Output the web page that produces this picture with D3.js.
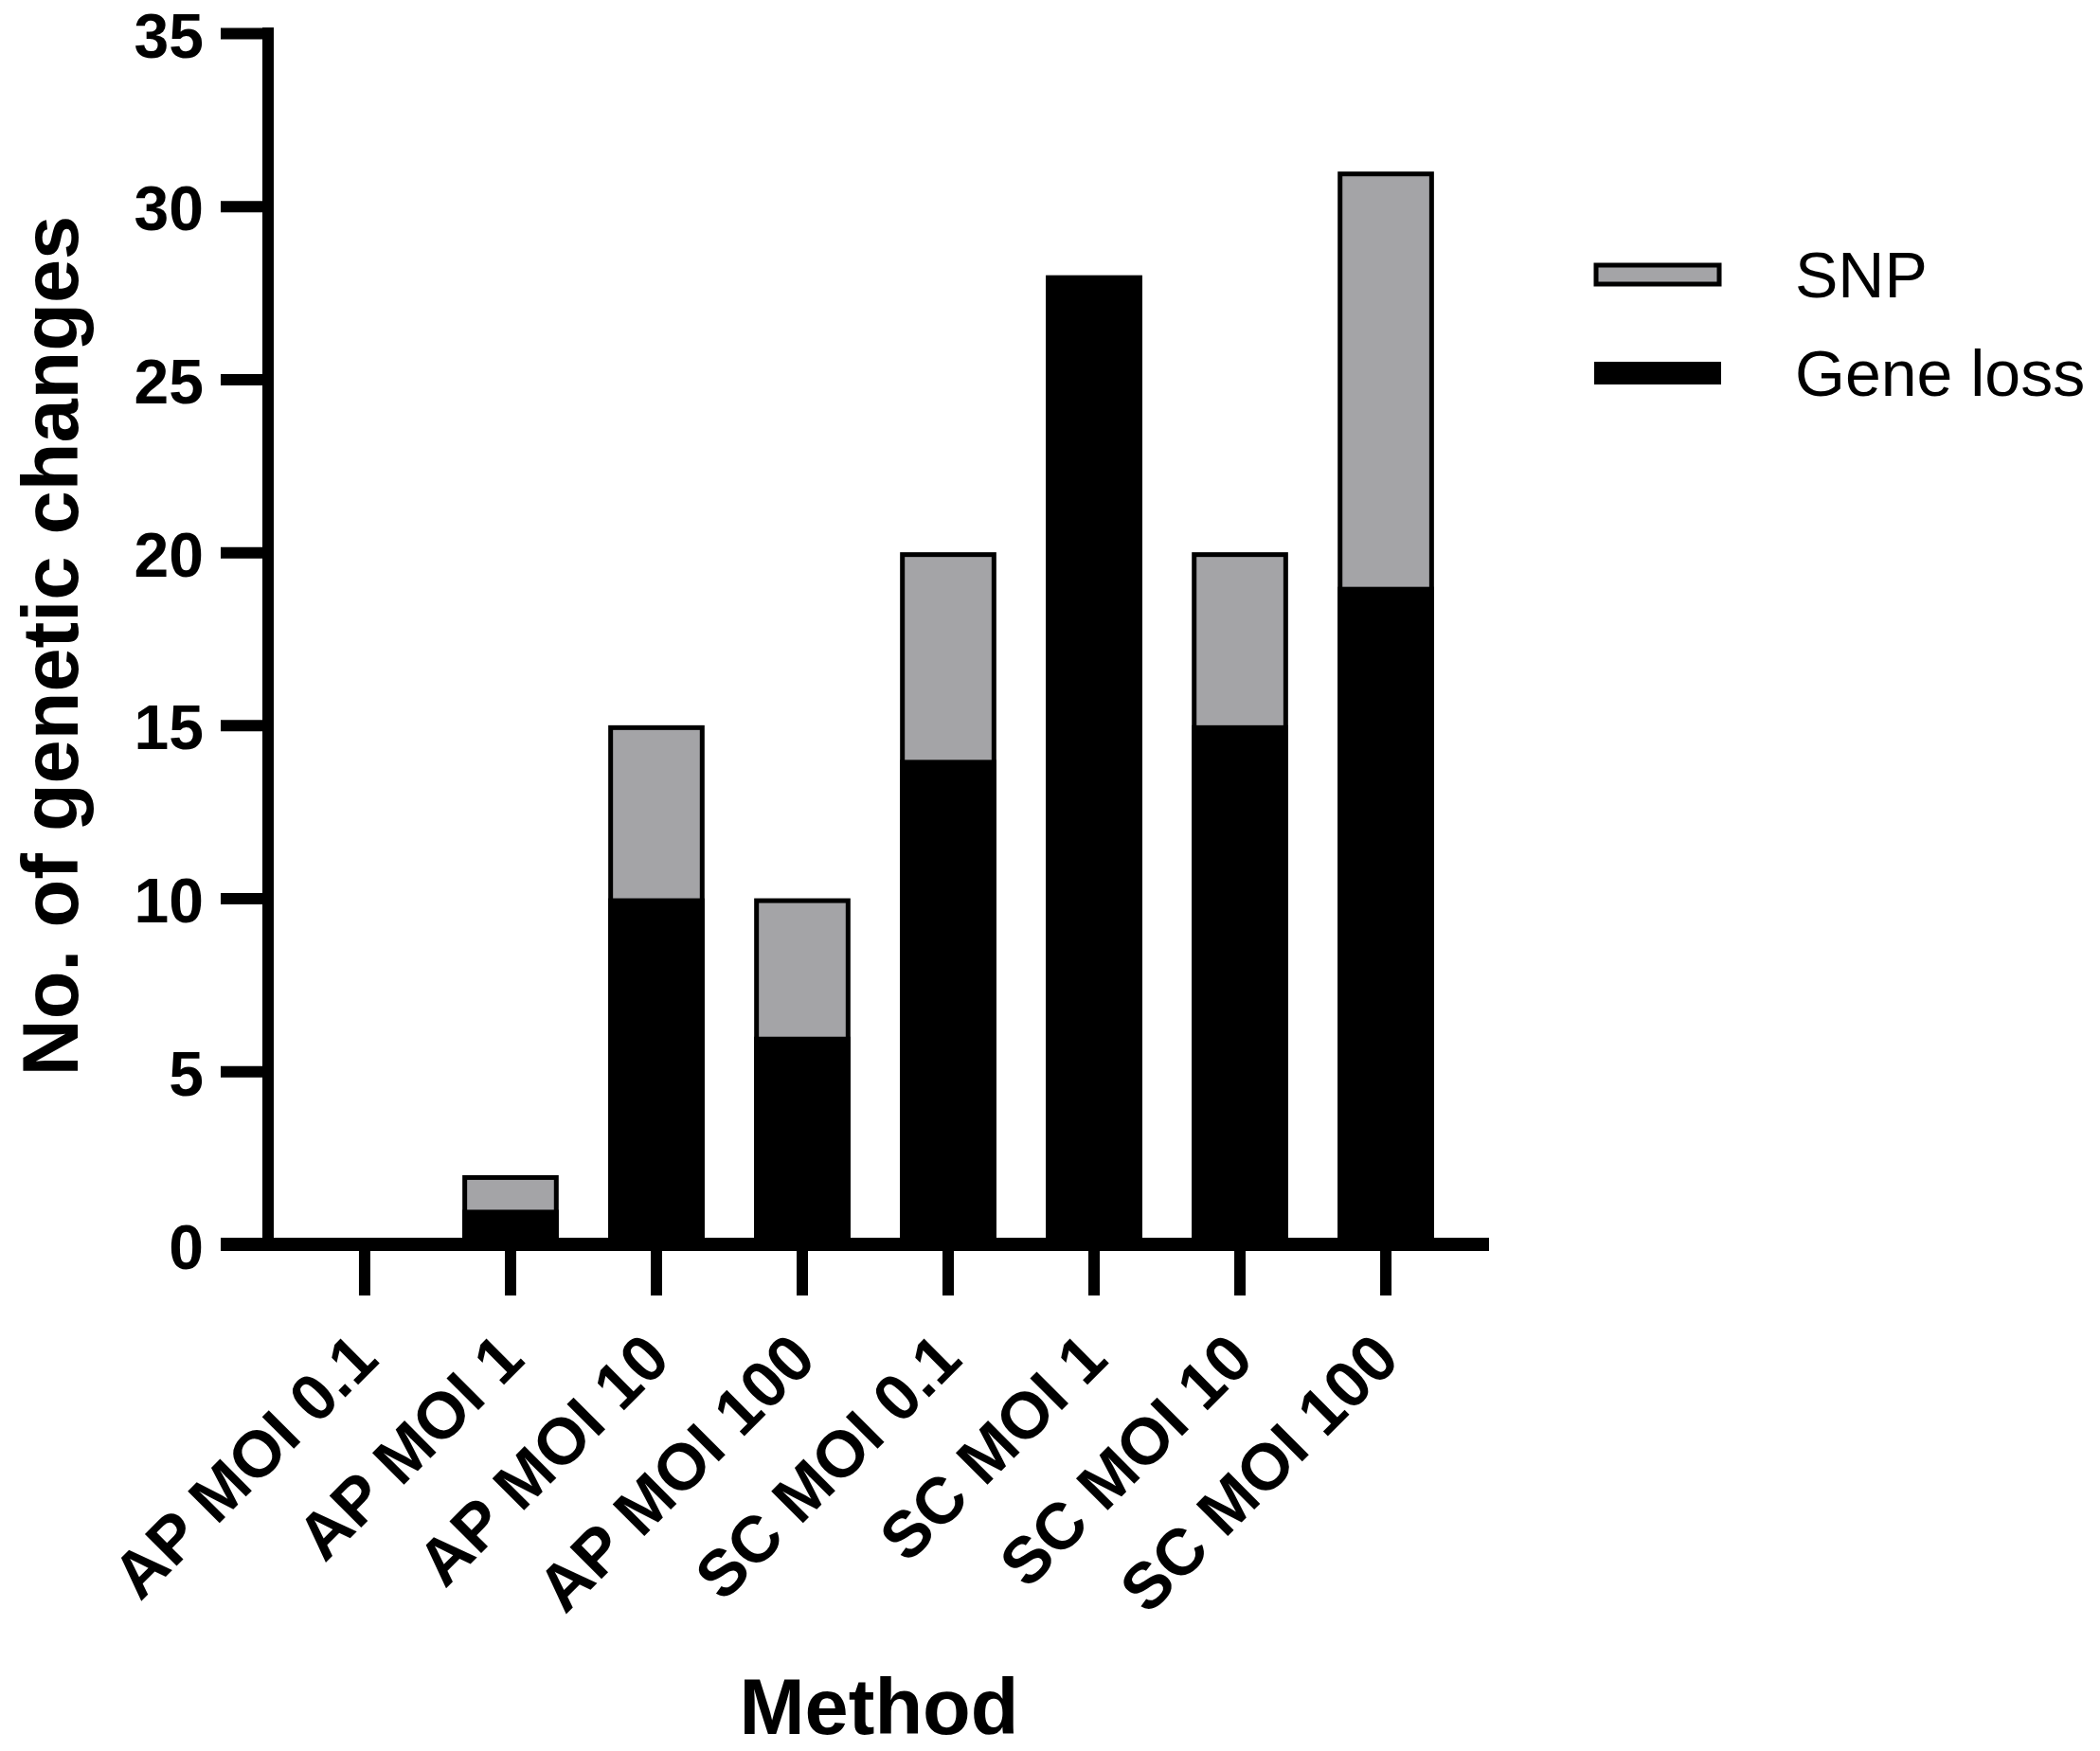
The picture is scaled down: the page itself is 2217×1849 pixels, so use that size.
<!DOCTYPE html>
<html>
<head>
<meta charset="utf-8">
<script src="https://cdn.jsdelivr.net/npm/d3@7"></script>
<style>
  body { margin: 0; background: #fff; }
  svg { display: block; }
  text { font-family: "Liberation Sans", Arial, sans-serif; }
</style>
</head>
<body>
<div id="chart"></div>
<script>
// data
const categories = ["AP MOI 0.1", "AP MOI 1", "AP MOI 10", "AP MOI 100",
  "SC MOI 0.1", "SC MOI 1", "SC MOI 10", "SC MOI 100"];
const geneLoss = [0, 1, 10, 6, 14, 28, 15, 19];
const snp = [0, 1, 5, 4, 6, 0, 5, 12];
const yTicks = [0, 5, 10, 15, 20, 25, 30, 35];
const seriesNames = ["SNP", "Gene loss"];
const snpGrey = "#a4a4a7";

const width = 2217, height = 1849;
const svg = d3.select("#chart").append("svg")
  .attr("width", width)
  .attr("height", height);

const x = d3.scaleBand()
  .domain(categories)
  .range([283, 1565])
  .paddingInner(0.34)
  .paddingOuter(0.332);

const y = d3.scaleLinear()
  .domain([0, 35])
  .range([1314, 35]);

const rows = categories.map((c, i) => ({ cat: c, loss: geneLoss[i], snp: snp[i] }));

// bars: gene loss at the bottom, snp stacked on it
const bars = svg.append("g");
rows.forEach(d => {
  const total = d.loss + d.snp;
  if (total === 0) return;
  const bx = x(d.cat), bw = x.bandwidth();
  // outline of the whole bar
  bars.append("rect")
    .attr("x", bx + 2.5)
    .attr("y", y(total) + 2.5)
    .attr("width", bw - 5)
    .attr("height", y(0) - y(total) - 2.5)
    .attr("fill", snpGrey)
    .attr("stroke", "black")
    .attr("stroke-width", 5);
  if (d.loss > 0) {
    bars.append("rect")
      .attr("x", bx)
      .attr("y", y(d.loss))
      .attr("width", bw)
      .attr("height", y(0) - y(d.loss))
      .attr("fill", "black");
  }
});

// y axis
const yAxis = svg.append("g")
  .attr("transform", "translate(283,0)")
  .call(d3.axisLeft(y).tickValues(yTicks).tickSize(50).tickPadding(18).tickSizeOuter(0));
yAxis.select(".domain").remove();
yAxis.selectAll(".tick line").attr("stroke", "black").attr("stroke-width", 12);
yAxis.selectAll(".tick text")
  .attr("dy", "0.38em")
  .attr("font-size", 66)
  .attr("font-weight", "bold")
  .attr("font-family", "Liberation Sans, Arial, sans-serif")
  .attr("fill", "black");

// x axis
const xAxis = svg.append("g")
  .attr("transform", "translate(0," + y(0) + ")")
  .call(d3.axisBottom(x).tickSize(54).tickSizeOuter(0).tickFormat(""));
xAxis.select(".domain").remove();
xAxis.selectAll(".tick line").attr("stroke", "black").attr("stroke-width", 12);

// axis lines
svg.append("line")
  .attr("x1", 283).attr("x2", 283)
  .attr("y1", y(35) - 6).attr("y2", y(0))
  .attr("stroke", "black").attr("stroke-width", 12);
svg.append("line")
  .attr("x1", 233).attr("x2", 1572)
  .attr("y1", y(0)).attr("y2", y(0))
  .attr("stroke", "black").attr("stroke-width", 14);

// rotated category labels
svg.append("g").selectAll("text")
  .data(categories)
  .enter().append("text")
  .attr("transform", d => "translate(" + (x(d) + x.bandwidth() / 2) + ",1421) rotate(-45)")
  .attr("text-anchor", "end")
  .attr("dy", "0.35em")
  .attr("font-size", 69)
  .attr("font-weight", "bold")
  .text(d => d);

// axis titles
svg.append("text")
  .attr("x", 928).attr("y", 1831)
  .attr("text-anchor", "middle")
  .attr("font-size", 83)
  .attr("font-weight", "bold")
  .text("Method");

svg.append("text")
  .attr("transform", "translate(82,682) rotate(-90)")
  .attr("text-anchor", "middle")
  .attr("font-size", 83)
  .attr("font-weight", "bold")
  .text("No. of genetic changes");

// legend
const legend = svg.append("g");
const legendY = [290, 394];
seriesNames.forEach((name, i) => {
  if (name === "SNP") {
    legend.append("rect")
      .attr("x", 1685).attr("y", legendY[i] - 10)
      .attr("width", 130).attr("height", 20)
      .attr("fill", snpGrey)
      .attr("stroke", "black").attr("stroke-width", 5);
  } else {
    legend.append("rect")
      .attr("x", 1683).attr("y", legendY[i] - 12)
      .attr("width", 134).attr("height", 24)
      .attr("fill", "black");
  }
  legend.append("text")
    .attr("x", 1895).attr("y", legendY[i])
    .attr("dy", "0.36em")
    .attr("font-size", 68)
    .text(name);
});
</script>
</body>
</html>
